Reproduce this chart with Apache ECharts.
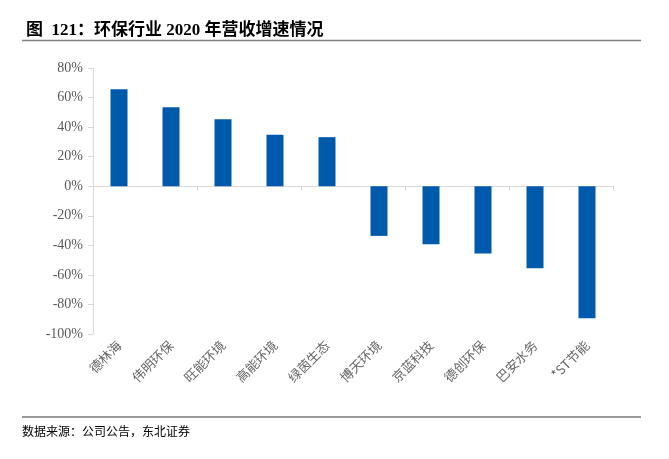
<!DOCTYPE html>
<html>
<head>
<meta charset="utf-8">
<script src="https://cdn.jsdelivr.net/npm/echarts@6/dist/echarts.min.js"></script>
<style>
html,body{margin:0;padding:0;background:#fff;}
#c{width:669px;height:459px;}
</style>
</head>
<body>
<div id="c"></div>
<script>
var categories = ['德林海','伟明环保','旺能环境','高能环境','绿茵生态','博天环境','京蓝科技','德创环保','巴安水务','*ST节能'];
var growth = [65.7, 53.5, 45.4, 34.8, 33.2, -33.6, -39.2, -45.5, -55.5, -89.4];
var yMin = -100, yMax = 80, yStep = 20;
var titleText = '图  121：环保行业 2020 年营收增速情况';
var sourceText = '数据来源：公司公告，东北证券';

var chart = echarts.init(document.getElementById('c'), null, {renderer:'canvas'});
var axisGrey = '#d9d9d9';
var labelGrey = '#595959';
chart.setOption({
  animation:false,
  backgroundColor:'#fff',
  title:{
    text:titleText,
    left:21, top:17,
    textStyle:{fontFamily:'"Liberation Serif","Noto Sans CJK SC",serif',fontSize:17,fontWeight:'bold',color:'#000'}
  },
  graphic:[
    {type:'line',shape:{x1:22,y1:40.5,x2:641,y2:40.5},style:{stroke:'#808080',lineWidth:1.5}},
    {type:'line',shape:{x1:22,y1:417,x2:641,y2:417},style:{stroke:'#999999',lineWidth:2}},
    {type:'text',left:22,top:425,style:{text:sourceText,font:'12px "Noto Sans CJK SC"',fill:'#000'}}
  ],
  grid:{left:93,right:56,top:68,bottom:125,containLabel:false},
  xAxis:[
    {type:'category',data:categories,
     axisLine:{onZero:true,lineStyle:{color:axisGrey,width:1}},
     axisTick:{show:true,length:4,lineStyle:{color:axisGrey}},
     axisLabel:{show:false}},
    {type:'category',data:categories,position:'bottom',
     axisLine:{show:false},axisTick:{show:false},
     axisLabel:{rotate:45,margin:9,fontSize:13,color:'#666666',fontFamily:'"Noto Sans CJK SC",sans-serif'}}
  ],
  yAxis:{type:'value',min:yMin,max:yMax,interval:yStep,
    axisLine:{show:true,lineStyle:{color:axisGrey}},
    axisTick:{show:true,length:5,lineStyle:{color:axisGrey}},
    splitLine:{show:false},
    axisLabel:{formatter:'{value}%',fontSize:14,color:labelGrey,margin:10,fontFamily:'"Liberation Serif",serif'}
  },
  series:[{type:'bar',xAxisIndex:0,data:growth,barWidth:17,itemStyle:{color:'#005AAB'}}]
});
</script>
</body>
</html>
